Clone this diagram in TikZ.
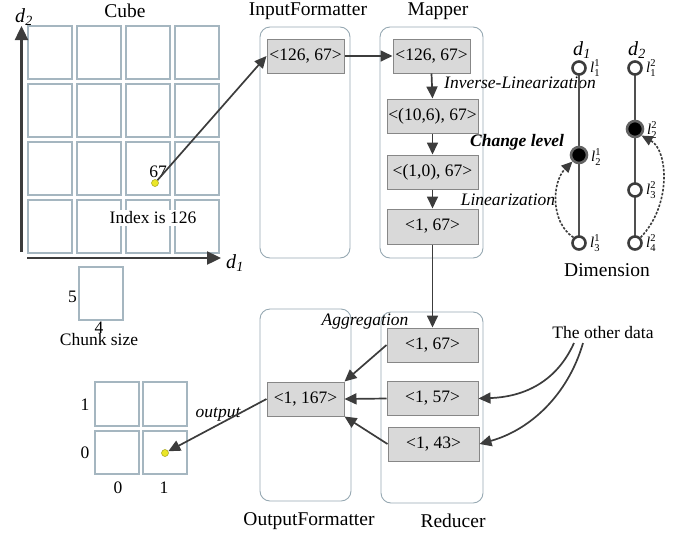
\documentclass[tikz,border=0pt]{standalone}
\usepackage{fontspec}
\setmainfont{Liberation Serif}
\usetikzlibrary{arrows.meta}
\definecolor{cellc}{RGB}{165,182,192}
\definecolor{boxfill}{RGB}{217,217,217}
\definecolor{boxdraw}{RGB}{135,135,135}
\definecolor{contc}{RGB}{150,168,178}
\definecolor{arr}{RGB}{60,60,60}
\definecolor{dotc}{RGB}{235,230,40}
\newcommand{\dlab}[1]{\textit{d}\textsubscript{\textit{#1}}}
\newcommand{\llab}[2]{$\textit{l}^{\mathrm{#2}}_{\mathrm{#1}}$}
\begin{document}
\begin{tikzpicture}[x=1pt,y=-1pt,
  cell/.style={draw=cellc, line width=1.1pt},
  gbox/.style={draw=boxdraw, fill=boxfill, line width=1pt, minimum height=34pt, inner sep=0pt, font=\fontsize{17.5}{20}\selectfont},
  cont/.style={draw=contc, rounded corners=10pt, line width=0.9pt, inner sep=0pt},
  title/.style={font=\fontsize{19.5}{22}\selectfont, inner sep=0pt},
  lbl/.style={font=\fontsize{17.5}{20}\selectfont, inner sep=0pt},
  ital/.style={font=\fontsize{17.5}{20}\selectfont\itshape, inner sep=1pt},
  ar/.style={draw=arr, line width=1.7pt, -{Triangle[length=12pt,width=11pt]}},
  axis/.style={draw=arr, line width=2.4pt, -{Triangle[length=14pt,width=13pt]}},
  ydot/.style={circle, fill=dotc, draw=dotc!70!black, line width=0.5pt, minimum size=7pt, inner sep=0pt},
  ocirc/.style={circle, draw=arr, fill=white, line width=2.6pt, minimum size=13pt, inner sep=0pt},
  bcirc/.style={circle, draw=arr!80, fill=black, line width=2.6pt, minimum size=16pt, inner sep=0pt},
  dsh/.style={draw=arr, line width=1.6pt, dash pattern=on 2.5pt off 1.5pt, -{Triangle[length=11pt,width=10pt]}},
  small/.style={font=\fontsize{15}{17}\selectfont, inner sep=0pt}
]
\useasboundingbox (0,0) rectangle (687,536);

% ---------- Cube ----------
\node[title] (tcube) at (125,11) {Cube};
\foreach \cx in {28,77,126,175}{
  \foreach \cy in {26,84,142,200}{
    \draw[cell] (\cx,\cy) rectangle ++(44,53);
  }
}
\draw[axis] (21.5,252) -- (21.5,26);
\draw[axis] (27,258) -- (221,258);
\node[font=\fontsize{20}{22}\selectfont, inner sep=0pt] (d2ax) at (24,17) {\dlab{2}};
\node[font=\fontsize{20}{22}\selectfont, inner sep=0pt] (d1ax) at (235,263) {\dlab{1}};
\node[lbl, fill=white, inner sep=1.5pt] (idx) at (153,218) {Index is 126};
\node[ydot] (dot1) at (155,183) {};
\node[lbl] (n67) at (158,172) {67};

% ---------- Chunk ----------
\draw[cell] (79,267) rectangle (123,320);
\node[lbl] (c5) at (72.5,297) {5};
\node[lbl] (c4) at (99,328) {4};
\node[lbl] (chunk) at (99,340) {Chunk size};

% ---------- Containers ----------
\node[title] (tif) at (308,11) {InputFormatter};
\node[title] (tmap) at (438,11) {Mapper};
\node[cont, minimum width=90pt, minimum height=231pt] (ifc) at (305,142.5) {};
\node[cont, minimum width=103pt, minimum height=231pt] (mapc) at (431.5,142.5) {};
\node[cont, minimum width=91pt, minimum height=192pt] (ofc) at (305.5,405) {};
\node[cont, minimum width=102pt, minimum height=191pt] (redc) at (432,407.5) {};
\node[title] (tof) at (309,521) {OutputFormatter};
\node[title] (tred) at (453,521) {Reducer};

% ---------- Gray boxes ----------
\node[gbox, minimum width=77pt] (if1) at (305.5,56) {<126, 67>};
\node[gbox, minimum width=77pt] (m1) at (431.5,56) {<126, 67>};
\node[gbox, minimum width=91pt] (m2) at (432.5,116) {<(10,6), 67>};
\node[gbox, minimum width=91pt] (m3) at (432.5,172) {<(1,0), 67>};
\node[gbox, minimum width=91pt, minimum height=35pt] (m4) at (432.5,226.5) {<1, 67>};
\node[gbox, minimum width=91pt] (r1) at (432.5,345) {<1, 67>};
\node[gbox, minimum width=91pt] (r2) at (432.5,398.5) {<1, 57>};
\node[gbox, minimum width=91pt] (r3) at (433.5,444) {<1, 43>};
\node[gbox, minimum width=77pt] (o1) at (305.5,399) {<1, 167>};

% ---------- Mapper labels ----------
\node[ital] (invlin) at (520,83) {Inverse-Linearization};
\node[ital, font=\fontsize{17.5}{20}\selectfont\bfseries\itshape] (chg) at (517,142) {Change level};
\node[ital] (lin) at (508,200) {Linearization};
\node[ital] (agg) at (365,322) {Aggregation};

% ---------- Arrows ----------
\draw[ar] (dot1) -- (if1.west);
\draw[ar] (if1.east) -- (m1.west);
\draw[ar] (m1.south) -- (m2.north);
\draw[ar] (m2.south) -- (m3.north);
\draw[ar] (m3.south) -- (m4.north);
\draw[ar] (m4.south) -- (r1.north);
\draw[ar] (r1.west) -- (o1.north east);
\draw[ar] (r2.west) -- (o1.east);
\draw[ar] (r3.west) -- (o1.south east);

% ---------- The other data ----------
\node[lbl] (other) at (603,333) {The other data};
\coordinate (oa) at (574,343);
\coordinate (ob) at (583,343);
\draw[ar] (oa) .. controls (555,385) and (520,397) .. (r2.east);
\draw[ar] (ob) .. controls (568,395) and (530,430) .. (r3.east);

% ---------- Output grid ----------
\draw[cell] (95,382) rectangle (139,426);
\draw[cell] (143,382) rectangle (187,426);
\draw[cell] (95,431) rectangle (139,474);
\draw[cell] (143,431) rectangle (187,474);
\node[lbl] (g1) at (85,405) {1};
\node[lbl] (g0) at (85,453) {0};
\node[lbl] (h0) at (118,488) {0};
\node[lbl] (h1) at (164,488) {1};
\node[ydot] (dot2) at (165,453) {};
\node[ital] (outp) at (218,414) {output};
\draw[ar] (o1.west) -- (dot2);

% ---------- Dimension ----------
\node[font=\fontsize{20}{22}\selectfont, inner sep=0pt] (dd1) at (582,50) {\dlab{1}};
\node[font=\fontsize{20}{22}\selectfont, inner sep=0pt] (dd2) at (637,50) {\dlab{2}};
\draw[draw=arr!90, line width=1.6pt] (579,68) -- (579,243);
\draw[draw=arr!90, line width=1.6pt] (635,68) -- (635,243);
\node[ocirc] (c11) at (579,68) {};
\node[bcirc] (c12) at (579,155) {};
\node[ocirc] (c13) at (579,243) {};
\node[ocirc] (c21) at (635,68) {};
\node[bcirc] (c22) at (635,129) {};
\node[ocirc] (c23) at (635,190) {};
\node[ocirc] (c24) at (635,243) {};
\node[small, anchor=west] (l11) at (590,68) {\llab{1}{1}};
\node[small, anchor=west] (l12) at (591,157) {\llab{2}{1}};
\node[small, anchor=west] (l13) at (590,243) {\llab{3}{1}};
\node[small, anchor=west] (l21) at (646,68) {\llab{1}{2}};
\node[small, anchor=west] (l22) at (647,130) {\llab{2}{2}};
\node[small, anchor=west] (l23) at (646,190) {\llab{3}{2}};
\node[small, anchor=west] (l24) at (646,243) {\llab{4}{2}};
\draw[dsh] (c13.north west) .. controls (550,222) and (552,182) .. (c12.south west);
\draw[dsh] (c24.north east) .. controls (672,205) and (668,150) .. (c22.south east);
\node[title] (dim) at (607,270) {Dimension};
\end{tikzpicture}
\end{document}
